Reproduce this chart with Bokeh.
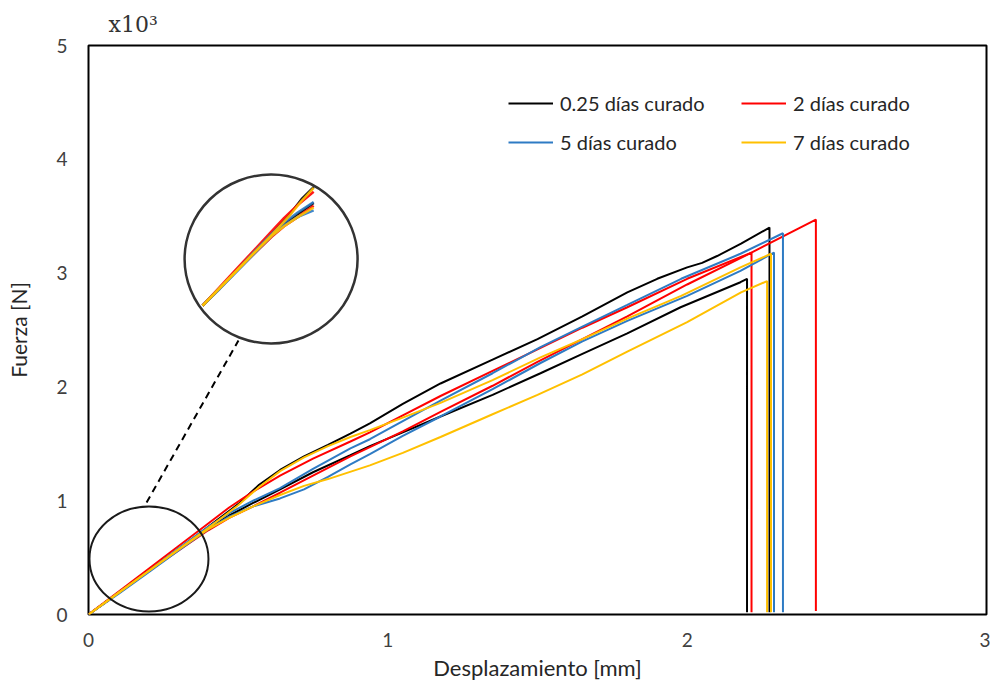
from bokeh.plotting import figure
from bokeh.models import Range1d, FixedTicker, Legend, LegendItem
from bokeh.embed import file_html
from bokeh.resources import INLINE

# ---------------- data ----------------
# 0.25 días curado (two specimens)
x_025a = [0, 0.1, 0.2, 0.3, 0.4, 0.5, 0.57, 0.64, 0.72, 0.8, 0.875, 0.94, 1.05, 1.176, 1.35, 1.5, 1.65, 1.8, 1.9, 2.0, 2.05, 2.1, 2.18, 2.275, 2.275]
y_025a = [0, 0.19, 0.38, 0.57, 0.77, 0.97, 1.14, 1.27, 1.39, 1.49, 1.59, 1.68, 1.85, 2.03, 2.24, 2.42, 2.62, 2.83, 2.95, 3.05, 3.09, 3.15, 3.26, 3.40, 0.02]
x_025b = [0, 0.1, 0.2, 0.3, 0.4, 0.47, 0.55, 0.64, 0.75, 0.875, 0.94, 1.05, 1.176, 1.35, 1.51, 1.65, 1.8, 1.978, 2.178, 2.20, 2.20]
y_025b = [0, 0.19, 0.38, 0.57, 0.76, 0.87, 0.98, 1.10, 1.25, 1.40, 1.48, 1.60, 1.74, 1.93, 2.12, 2.29, 2.47, 2.70, 2.92, 2.95, 0.02]

# 2 días curado
x_2a = [0, 0.1, 0.2, 0.3, 0.4, 0.47, 0.55, 0.64, 0.75, 0.875, 0.94, 1.05, 1.176, 1.35, 1.5, 1.65, 1.8, 2.0, 2.215, 2.215]
y_2a = [0, 0.20, 0.40, 0.60, 0.80, 0.94, 1.08, 1.22, 1.37, 1.52, 1.60, 1.75, 1.92, 2.14, 2.33, 2.52, 2.70, 2.95, 3.18, 0.02]
x_2b = [0, 0.1, 0.2, 0.3, 0.4, 0.47, 0.55, 0.64, 0.75, 0.875, 0.94, 1.05, 1.176, 1.35, 1.5, 1.65, 1.8, 2.0, 2.2, 2.43, 2.43]
y_2b = [0, 0.19, 0.38, 0.56, 0.74, 0.85, 0.95, 1.07, 1.22, 1.39, 1.47, 1.61, 1.78, 2.01, 2.22, 2.42, 2.62, 2.90, 3.16, 3.47, 0.03]

# 5 días curado
x_5a = [0, 0.1, 0.2, 0.3, 0.4, 0.47, 0.55, 0.64, 0.75, 0.875, 0.94, 1.05, 1.176, 1.35, 1.51, 1.65, 1.8, 1.98, 2.178, 2.32, 2.32]
y_5a = [0, 0.19, 0.38, 0.58, 0.77, 0.89, 1.00, 1.11, 1.28, 1.46, 1.54, 1.70, 1.88, 2.12, 2.35, 2.53, 2.72, 2.95, 3.17, 3.35, 0.02]
x_5b = [0, 0.1, 0.2, 0.3, 0.4, 0.47, 0.55, 0.64, 0.72, 0.8, 0.875, 0.94, 1.05, 1.176, 1.35, 1.51, 1.65, 1.8, 2.0, 2.178, 2.29, 2.29]
y_5b = [0, 0.18, 0.37, 0.56, 0.75, 0.86, 0.95, 1.02, 1.10, 1.21, 1.32, 1.41, 1.57, 1.74, 1.98, 2.21, 2.40, 2.58, 2.80, 3.02, 3.18, 0.02]

# 7 días curado
x_7a = [0, 0.1, 0.2, 0.3, 0.4, 0.5, 0.57, 0.64, 0.72, 0.8, 0.875, 0.94, 1.05, 1.176, 1.35, 1.51, 1.65, 1.8, 1.98, 2.178, 2.28, 2.28]
y_7a = [0, 0.19, 0.38, 0.57, 0.76, 0.96, 1.12, 1.26, 1.38, 1.48, 1.56, 1.62, 1.73, 1.86, 2.06, 2.26, 2.42, 2.60, 2.80, 3.05, 3.17, 0.02]
x_7b = [0, 0.1, 0.2, 0.3, 0.4, 0.47, 0.55, 0.64, 0.72, 0.8, 0.94, 1.05, 1.176, 1.35, 1.5, 1.65, 1.8, 2.0, 2.18, 2.267, 2.267]
y_7b = [0, 0.19, 0.38, 0.57, 0.75, 0.85, 0.95, 1.05, 1.13, 1.19, 1.31, 1.42, 1.56, 1.76, 1.93, 2.11, 2.31, 2.57, 2.83, 2.93, 0.02]

series_names = ["0.25 días curado", "2 días curado", "5 días curado", "7 días curado"]
series_colors = ["#000000", "#FF0000", "#2E7BC4", "#FFC000"]
series_data = [
    [(x_025a, y_025a), (x_025b, y_025b)],
    [(x_2a, y_2a), (x_2b, y_2b)],
    [(x_5a, y_5a), (x_5b, y_5b)],
    [(x_7a, y_7a), (x_7b, y_7b)],
]
legend_order = [0, 2, 1, 3]  # row-wise reading: 0.25 | 2 ; 5 | 7

x_ticks = [0, 1, 2, 3]
y_ticks = [0, 1, 2, 3, 4, 5]

# magnifier annotation (data units)
ZOOM_X_MAX = 0.64
SMALL_C = (0.202, 0.488)
BIG_C = (0.610, 3.124)
MAG_ORIGIN = (0.381, 2.715)
MAG_SCALE = (0.58, 0.82)
DASH_X = [0.194, 0.501]
DASH_Y = [0.984, 2.408]

# ---------------- figure ----------------
p = figure(width=990, height=686, output_backend="svg", toolbar_location=None,
           x_range=Range1d(0, 3), y_range=Range1d(0, 5),
           min_border_left=88, min_border_right=4, min_border_top=45, min_border_bottom=72)
p.xgrid.visible = False
p.ygrid.visible = False
p.outline_line_color = "#000000"
p.outline_line_width = 2
p.background_fill_color = "white"
p.border_fill_color = "white"

p.title.text = "x10³"
p.title.text_font = "DejaVu Serif"
p.title.text_font_size = "22px"
p.title.text_font_style = "normal"
p.title.text_color = "#333333"
p.title.align = "left"
p.title.offset = 20
p.title.standoff = 18

for ax in (p.xaxis[0], p.yaxis[0]):
    ax.axis_line_color = None
    ax.major_tick_line_color = None
    ax.minor_tick_line_color = None
    ax.major_label_text_font = "Lato"
    ax.major_label_text_font_size = "19px"
    ax.major_label_text_color = "#404040"
    ax.axis_label_text_font = "Lato"
    ax.axis_label_text_font_style = "normal"
    ax.axis_label_text_color = "#262626"
p.xaxis.axis_label_text_font_size = "22px"
p.yaxis.axis_label_text_font_size = "21px"

p.xaxis.ticker = FixedTicker(ticks=x_ticks)
p.yaxis.ticker = FixedTicker(ticks=y_ticks)
p.xaxis.axis_label = "Desplazamiento [mm]"
p.yaxis.axis_label = "Fuerza [N]"
p.xaxis.major_label_standoff = 12
p.xaxis.axis_label_standoff = 4
p.yaxis.major_label_standoff = 15
p.yaxis.axis_label_standoff = 22
p.yaxis.major_label_orientation = "horizontal"

first_renderers = []
for name, color, curves in zip(series_names, series_colors, series_data):
    rends = []
    for xs, ys in curves:
        rends.append(p.line(xs, ys, line_color=color, line_width=2))
    first_renderers.append(rends[0])

# magnified view inside the big circle
for color, curves in zip(series_colors, series_data):
    for xs, ys in curves:
        mx = [MAG_ORIGIN[0] + MAG_SCALE[0] * x for x in xs if x <= ZOOM_X_MAX]
        my = [MAG_ORIGIN[1] + MAG_SCALE[1] * y for x, y in zip(xs, ys) if x <= ZOOM_X_MAX]
        p.line(mx, my, line_color=color, line_width=2.5, line_alpha=0.9)

p.ellipse(x=[SMALL_C[0]], y=[SMALL_C[1]], width=119, height=105,
          width_units="screen", height_units="screen",
          fill_color=None, line_color="#1a1a1a", line_width=2)
p.ellipse(x=[BIG_C[0]], y=[BIG_C[1]], width=173, height=169,
          width_units="screen", height_units="screen",
          fill_color=None, line_color="#333333", line_width=2.5)
p.line(DASH_X, DASH_Y, line_color="#000000", line_width=2, line_dash="7 5")

legend_items = [LegendItem(label=series_names[i], renderers=[first_renderers[i]]) for i in legend_order]
legend = Legend(items=legend_items, ncols=2, location=(420, 460),
                glyph_width=45, glyph_height=20, label_height=20, label_width=166,
                spacing=15, padding=0, margin=0, label_standoff=7,
                label_text_font="Lato", label_text_font_size="20px",
                label_text_color="#262626",
                border_line_alpha=0, background_fill_alpha=0)
p.add_layout(legend, "center")

open("out.html", "w").write(file_html(p, INLINE))
